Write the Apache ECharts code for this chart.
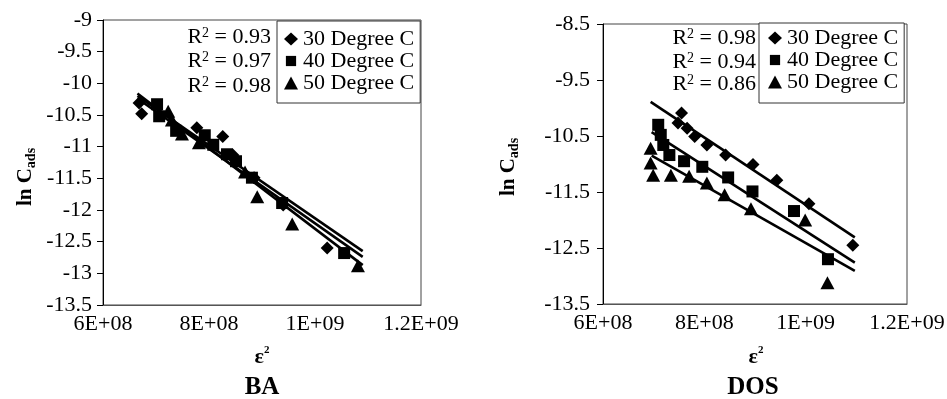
<!DOCTYPE html>
<html>
<head>
<meta charset="utf-8">
<script src="https://cdn.jsdelivr.net/npm/echarts@6/dist/echarts.min.js"></script>
<style>
  html, body { margin: 0; padding: 0; background: #fff; }
  #chart { width: 947px; height: 399px; }
</style>
</head>
<body>
<div id="chart"></div>
<script>
// ---- axis ticks ----
const xTickValues = [6e8, 8e8, 1e9, 1.2e9];
const xTickLabels = ['6E+08', '8E+08', '1E+09', '1.2E+09'];
const baYTicks = [-13.5, -13, -12.5, -12, -11.5, -11, -10.5, -10, -9.5, -9];
const dosYTicks = [-13.5, -12.5, -11.5, -10.5, -9.5, -8.5];

// ---- series ----
const seriesNames = ['30 Degree C', '40 Degree C', '50 Degree C'];
const seriesSymbols = ['diamond', 'rect', 'triangle'];
const panelTitles = ['BA', 'DOS'];
const rSquaredBA = ['0.93', '0.97', '0.98'];
const rSquaredDOS = ['0.98', '0.94', '0.86'];

// BA isotherm: [epsilon^2, ln Cads]
const ba30 = [[6.68e8, -10.31], [6.73e8, -10.48], [7.77e8, -10.70], [8.26e8, -10.84],
              [8.45e8, -11.13], [8.85e8, -11.49], [9.40e8, -11.92], [1.023e9, -12.60]];
const ba40 = [[7.02e8, -10.33], [7.06e8, -10.52], [7.38e8, -10.75], [7.92e8, -10.82],
              [8.08e8, -10.97], [8.34e8, -11.12], [8.51e8, -11.23], [8.81e8, -11.49],
              [9.38e8, -11.89], [1.055e9, -12.68]];
const ba50 = [[7.23e8, -10.44], [7.30e8, -10.58], [7.49e8, -10.80], [7.81e8, -10.94],
              [8.68e8, -11.40], [8.91e8, -11.79], [9.57e8, -12.22], [1.081e9, -12.88]];

// DOS isotherm: [epsilon^2, ln Cads]
const dos30 = [[7.55e8, -10.09], [7.48e8, -10.27], [7.66e8, -10.36], [7.81e8, -10.51],
               [8.05e8, -10.66], [8.42e8, -10.84], [8.96e8, -11.01], [9.43e8, -11.29],
               [1.0065e9, -11.71], [1.093e9, -12.45]];
const dos40 = [[7.09e8, -10.30], [7.14e8, -10.48], [7.19e8, -10.66], [7.31e8, -10.84],
               [7.60e8, -10.95], [7.96e8, -11.05], [8.47e8, -11.24], [8.95e8, -11.49],
               [9.77e8, -11.84], [1.044e9, -12.70]];
const dos50 = [[6.94e8, -10.72], [6.94e8, -10.98], [6.99e8, -11.20], [7.34e8, -11.20],
               [7.70e8, -11.22], [8.05e8, -11.34], [8.40e8, -11.55], [8.92e8, -11.80],
               [9.99e8, -12.00], [1.043e9, -13.12]];

// linear trend lines, start and end points
const baFit30 = [[6.65e8, -10.20], [1.09e9, -12.65]];
const baFit40 = [[6.65e8, -10.24], [1.09e9, -12.74]];
const baFit50 = [[6.65e8, -10.16], [1.09e9, -12.87]];
const dosFit30 = [[6.94e8, -9.89], [1.097e9, -12.31]];
const dosFit40 = [[6.96e8, -10.43], [1.097e9, -12.76]];
const dosFit50 = [[6.96e8, -10.85], [1.097e9, -12.91]];

const FONT = "'Liberation Serif', 'Times New Roman', serif";
const INK = '#000';
const TEXT_SIZE = 22;
const panels = [
  { grid: { left: 103, top: 20, width: 318, height: 285 }, yMin: -13.5, yMax: -9,
    yTicks: baYTicks, yMargin: 11, points: [ba30, ba40, ba50], fits: [baFit30, baFit40, baFit50],
    r2: rSquaredBA, r2X: 271, r2Y: [37, 61, 86], legend: { left: 277, top: 21 },
    legendPad: [7, 6, 9, 7], legendGap: 0, legendLine: 20.5,
    yName: { x: 26, y: 177 }, xName: { x: 262, y: 357 }, title: { x: 262, y: 388 } },
  { grid: { left: 603, top: 24, width: 304, height: 280 }, yMin: -13.5, yMax: -8.5,
    yTicks: dosYTicks, yMargin: 13, points: [dos30, dos40, dos50], fits: [dosFit30, dosFit40, dosFit50],
    r2: rSquaredDOS, r2X: 756, r2Y: [38, 62, 84], legend: { left: 759, top: 23 },
    legendPad: [4, 6, 10, 9], legendGap: 0, legendLine: 22,
    yName: { x: 509, y: 167 }, xName: { x: 756, y: 357 }, title: { x: 753, y: 388 } }
];

const symbolSizes = { diamond: 13, rect: 12, triangle: [14, 13] };
const legendIcons = {
  diamond: 'diamond',
  rect: 'path://M0,0M1.5,1.5L12.5,1.5L12.5,12.5L1.5,12.5ZM14,14',
  triangle: 'triangle'
};

function xLabel(v) {
  for (let i = 0; i < xTickValues.length; i++) {
    if (Math.abs(v - xTickValues[i]) < 1e6) return xTickLabels[i];
  }
  return '';
}

const option = {
  animation: false,
  backgroundColor: '#fff',
  grid: [], xAxis: [], yAxis: [], series: [], legend: [], graphic: []
};

panels.forEach((p, gi) => {
  option.grid.push(Object.assign({ show: true, borderColor: '#444', borderWidth: 1,
                                   backgroundColor: '#fff', outerBoundsMode: 'none' }, p.grid));
  option.xAxis.push({
    type: 'value', gridIndex: gi, min: 6e8, max: 1.2e9, interval: 2e8,
    axisLine: { show: true, onZero: false, lineStyle: { color: '#555', width: 1 } },
    axisTick: { show: false }, splitLine: { show: false },
    axisLabel: { color: INK, fontFamily: FONT, fontSize: TEXT_SIZE, margin: 8, formatter: xLabel }
  });
  option.yAxis.push({
    type: 'value', gridIndex: gi, min: p.yMin, max: p.yMax,
    axisLine: { show: true, onZero: false, lineStyle: { color: '#000', width: 1 } },
    axisTick: { show: true, inside: false, length: 6, customValues: p.yTicks,
                lineStyle: { color: '#000', width: 1 } },
    splitLine: { show: false },
    axisLabel: { color: INK, fontFamily: FONT, fontSize: TEXT_SIZE, margin: p.yMargin,
                 customValues: p.yTicks, formatter: v => String(v) }
  });
  seriesNames.forEach((name, si) => {
    const sym = seriesSymbols[si];
    option.series.push({
      type: 'scatter', name, xAxisIndex: gi, yAxisIndex: gi, data: p.points[si],
      symbol: sym, symbolSize: symbolSizes[sym], itemStyle: { color: INK, opacity: 1 }, z: 2
    });
    option.series.push({
      type: 'line', name: panelTitles[gi] + ' trend ' + si, xAxisIndex: gi, yAxisIndex: gi,
      data: p.fits[si], showSymbol: false, silent: true,
      lineStyle: { color: INK, width: 2.6 }, z: 3
    });
  });
  option.legend.push({
    orient: 'vertical', left: p.legend.left, top: p.legend.top,
    data: seriesNames.map((n, si) => ({ name: n, icon: legendIcons[seriesSymbols[si]] })),
    itemWidth: 14, itemHeight: 13, itemGap: p.legendGap,
    padding: p.legendPad, borderColor: '#333', borderWidth: 1, backgroundColor: '#fff',
    selectedMode: false,
    itemStyle: { color: INK },
    textStyle: { color: INK, fontFamily: FONT, fontSize: TEXT_SIZE, lineHeight: p.legendLine }
  });
  // coefficient of determination for each trend line
  p.r2.forEach((r, i) => {
    option.graphic.push({
      type: 'text', x: p.r2X, y: p.r2Y[i], z: 10,
      style: {
        text: '{t|R}{s|2}{t| = ' + r + '}', align: 'right', verticalAlign: 'middle',
        rich: {
          t: { fontFamily: FONT, fontSize: TEXT_SIZE, fill: INK, lineHeight: 22 },
          s: { fontFamily: FONT, fontSize: 14, fill: INK, verticalAlign: 'top', lineHeight: 22 }
        }
      }
    });
  });
  // axis names and panel title
  option.graphic.push({
    type: 'text', x: p.yName.x, y: p.yName.y, rotation: Math.PI / 2,
    style: {
      text: '{m|ln C}{s|ads}', align: 'center', verticalAlign: 'middle',
      rich: {
        m: { fontFamily: FONT, fontSize: 21, fontWeight: 'bold', fill: INK, lineHeight: 24 },
        s: { fontFamily: FONT, fontSize: 14, fontWeight: 'bold', fill: INK, verticalAlign: 'bottom', lineHeight: 20 }
      }
    }
  });
  option.graphic.push({
    type: 'text', x: p.xName.x, y: p.xName.y,
    style: {
      text: '{e|ε}{s|2}', align: 'center', verticalAlign: 'middle',
      rich: {
        e: { fontFamily: FONT, fontSize: 22, fontWeight: 'bold', fill: INK, lineHeight: 24 },
        s: { fontFamily: FONT, fontSize: 11, fontWeight: 'bold', fill: INK, verticalAlign: 'top', lineHeight: 24 }
      }
    }
  });
  option.graphic.push({
    type: 'text', x: p.title.x, y: p.title.y,
    style: { text: panelTitles[gi], align: 'center', verticalAlign: 'middle',
             fontFamily: FONT, fontSize: 25, fontWeight: 'bold', fill: INK }
  });
});

const chart = echarts.init(document.getElementById('chart'), null, { renderer: 'canvas' });
chart.setOption(option);
</script>
</body>
</html>
